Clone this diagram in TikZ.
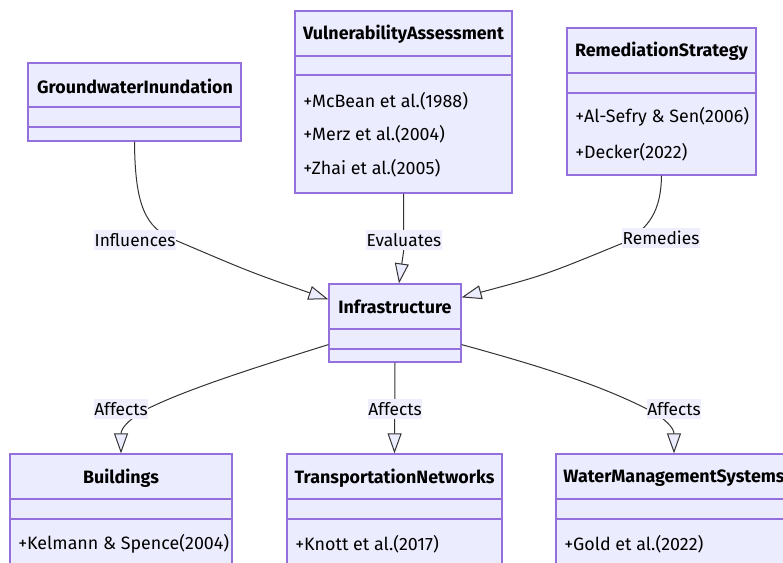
\documentclass[tikz,border=0pt]{standalone}
\usepackage{fontspec}
\setmainfont{Fira Sans}
\usetikzlibrary{arrows.meta,fit,calc}
\definecolor{clsfill}{HTML}{ECECFF}
\definecolor{clsdraw}{HTML}{9370DB}
\definecolor{edgecol}{HTML}{333333}
\definecolor{lblfill}{HTML}{EEEEFC}
\begin{document}
\begin{tikzpicture}[x=0.75pt,y=-0.75pt,inner sep=0pt,
  cls/.style={draw=clsdraw,fill=clsfill,line width=0.9pt},
  sep/.style={draw=clsdraw,line width=0.9pt},
  title/.style={font=\bfseries\fontsize{13.4}{16}\selectfont},
  attr/.style={anchor=west,font=\fontsize{13.4}{16}\selectfont},
  lbl/.style={fill=lblfill,inner xsep=0.5pt,inner ysep=2.5pt,font=\fontsize{13}{16}\selectfont},
  rel/.style={draw=edgecol,line width=0.75pt,-{Triangle[length=15pt,width=10.5pt,fill=clsfill]}}]

\useasboundingbox (0,0) rectangle (783,562);

% top row
\node[cls,fit={(28,63) (241,141)}] (gw) {};
\draw[sep] (28,107) -- (241,107);
\draw[sep] (28,127) -- (241,127);
\node[title] (gwT) at (135,86) {GroundwaterInundation};

\node[cls,fit={(295,11) (512,193)}] (va) {};
\draw[sep] (295,56) -- (512,56);
\draw[sep] (295,75) -- (512,75);
\node[title] (vaT) at (403.5,34) {VulnerabilityAssessment};
\node[attr] (va1) at (303,101) {+McBean et al.(1988)};
\node[attr] (va2) at (303,134) {+Merz et al.(2004)};
\node[attr] (va3) at (303,168) {+Zhai et al.(2005)};

\node[cls,fit={(567,28) (756,175)}] (rs) {};
\draw[sep] (567,73) -- (756,73);
\draw[sep] (567,93) -- (756,93);
\node[title] (rsT) at (661.5,51) {RemediationStrategy};
\node[attr] (rs1) at (575,117) {+Al-Sefry \& Sen(2006)};
\node[attr] (rs2) at (575,152) {+Decker(2022)};

% middle
\node[cls,fit={(329,284) (461,362)}] (inf) {};
\draw[sep] (329,329) -- (461,329);
\draw[sep] (329,349) -- (461,349);
\node[title] (infT) at (395,307) {Infrastructure};

% bottom row
\node[cls,fit={(10,454) (232,580)}] (bd) {};
\draw[sep] (10,499) -- (232,499);
\draw[sep] (10,519) -- (232,519);
\node[title] (bdT) at (121,478) {Buildings};
\node[attr] (bd1) at (18,544) {+Kelmann \& Spence(2004)};

\node[cls,fit={(287,454) (502,580)}] (tn) {};
\draw[sep] (287,499) -- (502,499);
\draw[sep] (287,519) -- (502,519);
\node[title] (tnT) at (394.5,478) {TransportationNetworks};
\node[attr] (tn1) at (295,544) {+Knott et al.(2017)};

\node[cls,fit={(556,454) (792,580)}] (wm) {};
\draw[sep] (556,499) -- (792,499);
\draw[sep] (556,519) -- (792,519);
\node[title] (wmT) at (674,478) {WaterManagementSystems};
\node[attr] (wm1) at (564,544) {+Gold et al.(2022)};

% relations
\draw[rel] (gw.south) .. controls (135,205) and (145,228) .. (175,240)
  .. controls (250,272) .. ($(inf.north west)+(0,16)$);
\draw[rel] (va.south) -- (403.5,252) -- ($(inf.north)+(4,0)$);
\draw[rel] (rs.south) .. controls (661,210) and (650,228) .. (623,243)
  .. controls (545,275) .. ($(inf.north east)+(0,14)$);
\draw[rel] ($(inf.south west)+(0,-18)$) .. controls (260,366) and (190,388) .. (149,408)
  .. controls (130,418) and (121,428) .. (bd.north);
\draw[rel] (inf.south) -- (tn.north);
\draw[rel] ($(inf.south east)+(0,-18)$) .. controls (540,366) and (600,385) .. (647,409)
  .. controls (665,418) and (674,428) .. (wm.north);

\node[lbl] (lInfl) at (135,240) {Influences};
\node[lbl] (lEval) at (404,240) {Evaluates};
\node[lbl] (lRem) at (661,238) {Remedies};
\node[lbl] (lAffB) at (121,409) {Affects};
\node[lbl] (lAffT) at (395,409) {Affects};
\node[lbl] (lAffW) at (674,409) {Affects};

\end{tikzpicture}
\end{document}
